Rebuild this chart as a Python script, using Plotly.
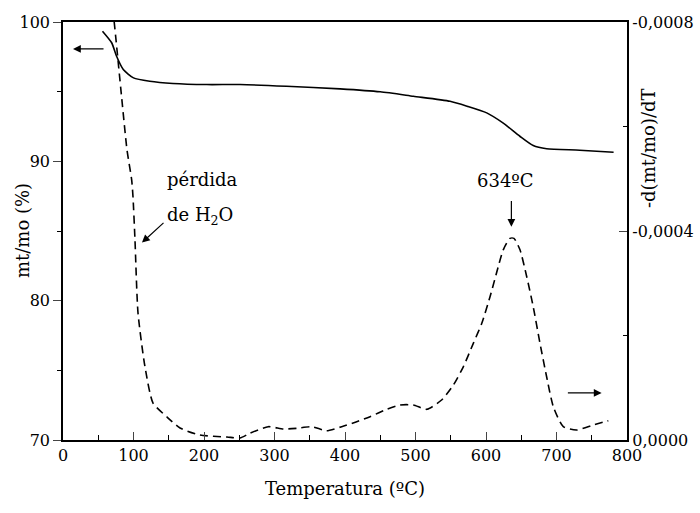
import plotly.graph_objects as go

# TG curve (left axis, mt/mo %)
tg_T = [56, 69, 76, 85.5, 100, 123, 156, 204, 251, 317, 393, 450, 497, 549, 573, 601, 624, 648, 667, 686, 733, 781]
tg_v = [99.34, 98.51, 97.54, 96.59, 95.99, 95.75, 95.59, 95.51, 95.51, 95.39, 95.2, 94.99, 94.67, 94.31, 93.96, 93.48, 92.76, 91.8, 91.13, 90.9, 90.8, 90.65]

# DTG curve (right axis, d(mt/mo)/dT)
dtg_T = [68, 72.3, 83.3, 90.8, 97.4, 99.3, 102.1, 106.4, 116.3, 127.7, 147.5, 166, 194, 232.6, 251, 265, 291,
         312.5, 331.5, 352.8, 374, 395.3, 416.6, 435.5, 459, 478, 497, 516, 537, 553.6, 567.8, 582, 593.9,
         605.7, 617.4, 624.5, 634, 639.7, 648.2, 657.7, 667, 676.6, 686, 695.5, 709.6, 728.6, 752, 773.5]
dtg_v = [-0.00085, -0.000804, -0.000654, -0.000555, -0.000498, -0.000465, -0.000383, -0.000243, -0.00014,
         -0.0000708, -0.000044, -0.000023, -0.0000096, -0.0000057, -0.0000038, -0.0000128, -0.0000255,
         -0.000021, -0.0000224, -0.0000255, -0.0000178, -0.0000255, -0.000035, -0.0000446, -0.0000587,
         -0.000067, -0.000067, -0.0000587, -0.0000766, -0.000105, -0.00014, -0.000185, -0.000223,
         -0.000274, -0.000332, -0.000364, -0.000386, -0.000386, -0.000364, -0.000313, -0.000255, -0.000185,
         -0.000121, -0.0000637, -0.0000255, -0.0000191, -0.0000287, -0.0000369]

x_ticks = [0, 100, 200, 300, 400, 500, 600, 700, 800]
y_ticks = [70, 80, 90, 100]
y2_ticks = [-0.0008, -0.0004, 0.0]
y2_ticktext = ["-0,0008", "-0,0004", "0,0000"]

FONT = "DejaVu Serif"
TICK = 16
TITLE = 18

fig = go.Figure()
fig.add_trace(go.Scatter(x=tg_T, y=tg_v, mode="lines", line=dict(color="black", width=1.6, shape="spline", smoothing=0.6),
                         showlegend=False, hoverinfo="skip"))
fig.add_trace(go.Scatter(x=dtg_T, y=dtg_v, mode="lines", yaxis="y2",
                         line=dict(color="black", width=1.6, dash="8px,5px", shape="spline", smoothing=0.6),
                         showlegend=False, hoverinfo="skip"))

fig.update_layout(
    width=700, height=513,
    margin=dict(l=63, r=73, t=22, b=73, autoexpand=False),
    paper_bgcolor="white", plot_bgcolor="white",
    font=dict(family=FONT, color="black", size=TICK),
    xaxis=dict(range=[0, 800], tickvals=x_ticks, ticks="inside", ticklen=8, tickwidth=1.3, automargin=False,
               showline=True, linecolor="black", linewidth=1.6, mirror=True, showgrid=False, zeroline=False,
               tickfont=dict(size=TICK, family=FONT),
               minor=dict(ticks="inside", ticklen=5, dtick=50, tickcolor="black", tickwidth=1.2, showgrid=False)),
    yaxis=dict(range=[70, 100], tickvals=y_ticks, ticks="outside", ticklen=8, tickwidth=1.3, automargin=False,
               showline=True, linecolor="black", linewidth=1.6, showgrid=False, zeroline=False,
               tickfont=dict(size=TICK, family=FONT),
               minor=dict(ticks="outside", ticklen=4, dtick=5, tickcolor="black", tickwidth=1.2, showgrid=False)),
    yaxis2=dict(range=[0, -0.0008], overlaying="y", side="right", tickvals=y2_ticks, ticktext=y2_ticktext,
                ticks="inside", ticklen=8, tickwidth=1.3, showline=True, linecolor="black", linewidth=2.2,
                automargin=False, showgrid=False, zeroline=False, tickfont=dict(size=TICK, family=FONT),
                minor=dict(ticks="inside", ticklen=4, tickvals=[-0.0006, -0.0002], tickcolor="black",
                           tickwidth=1.2, showgrid=False)),
)

ann = []
# axis titles
ann.append(dict(text="mt/mo (%)", xref="paper", yref="paper", x=(22 - 63) / 564, y=0.5, textangle=-90,
                showarrow=False, font=dict(size=TITLE, family=FONT), xanchor="center", yanchor="middle"))
ann.append(dict(text="-d(mt/mo)/dT", xref="paper", yref="paper", x=(648 - 63) / 564, y=(440 - 148) / 418,
                textangle=-90, showarrow=False, font=dict(size=TITLE, family=FONT), xanchor="center", yanchor="middle"))
ann.append(dict(text="Temperatura (ºC)", xref="paper", yref="paper", x=(345 - 63) / 564, y=(440 - 488) / 418,
                showarrow=False, font=dict(size=TITLE, family=FONT), xanchor="center", yanchor="middle"))
# text labels
ann.append(dict(text="pérdida", x=144.7, y=88.7, xref="x", yref="y", showarrow=False, xanchor="left",
                yanchor="middle", font=dict(size=TITLE, family=FONT)))
ann.append(dict(text="de H<sub>2</sub>O", x=144.7, y=86.1, xref="x", yref="y", showarrow=False, xanchor="left",
                yanchor="middle", font=dict(size=TITLE, family=FONT)))
ann.append(dict(text="634ºC", x=628, y=88.6, xref="x", yref="y", showarrow=False, xanchor="center",
                yanchor="middle", font=dict(size=TITLE, family=FONT)))
# arrows
def arrow(x0, y0, x1, y1):
    return dict(text="", x=x1, y=y1, ax=x0, ay=y0, xref="x", yref="y", axref="x", ayref="y",
                showarrow=True, arrowhead=2, arrowsize=1.3, arrowwidth=1.2, arrowcolor="black")
ann.append(arrow(144.7, 85.68, 112, 84.17))
ann.append(arrow(636, 87.26, 636, 85.3))
ann.append(arrow(59.6, 98.07, 14.2, 98.07))
ann.append(arrow(714, 73.38, 764, 73.38))
fig.update_layout(annotations=ann)

fig.write_html("out.html")
